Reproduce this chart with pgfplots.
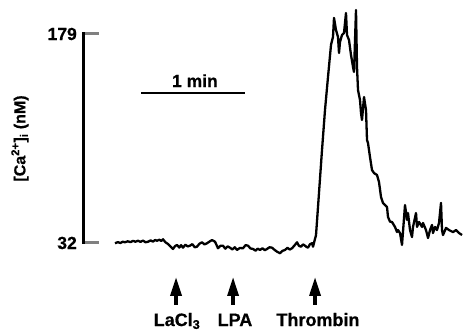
\documentclass[border=0pt]{standalone}
\usepackage{pgfplots}
\pgfplotsset{compat=1.18}
\usepackage{pgfplotstable}
\usepackage{fontspec}
\setmainfont{Liberation Sans}[BoldFeatures={FakeBold=0.6}]
\usetikzlibrary{arrows.meta}
% time (s) vs [Ca2+]i (nM)
\pgfplotstableread{
t v
17.88 31.8
19.5 32.6
21.0 32.0
22.4 32.9
23.65 32.5
25.2 33.2
26.8 32.6
28.3 33.5
29.7 32.9
31.15 33.6
32.6 32.8
34.0 33.7
35.5 32.5
36.92 32.9
38.4 33.8
39.8 33.0
41.0 34.1
42.12 33.6
43.5 34.3
44.6 33.4
45.58 34.6
47.0 32.5
48.46 31.3
49.9 29.5
51.35 27.8
52.5 29.8
53.65 30.6
55.0 28.8
56.0 30.5
57.12 28.7
58.5 30.8
59.8 29.6
61.15 30.1
62.5 31.2
63.9 29.0
65.19 29.4
66.6 31.5
68.08 32.5
69.5 31.0
70.96 31.8
72.4 33.0
73.85 34.1
75.58 32.9
76.5 30.5
77.31 28.3
78.7 30.0
80.19 30.1
81.5 28.0
82.9 29.6
84.23 28.7
85.6 27.5
87.0 29.0
88.27 27.1
89.9 28.5
91.73 28.3
93.2 30.5
94.62 30.1
96.0 28.2
97.50 27.8
99.0 26.6
100.2 28.0
101.54 27.1
103.0 28.3
104.3 26.9
105.58 27.8
107.0 29.0
108.46 28.7
109.9 27.2
111.35 25.9
113.08 24.8
114.5 26.5
115.96 27.1
117.4 28.6
118.7 27.4
120.00 28.3
121.4 30.2
122.88 32.5
124.0 30.0
125.19 29.4
126.4 31.0
127.50 30.1
128.4 29.2
129.23 28.7
130.4 31.2
131.54 31.8
132.12 29.4
133.85 37.6
135.00 57.3
137.31 97.4
139.04 125.6
140.77 148.8
142.50 171.3
143.65 176.9
144.23 190.3
145.38 181.8
146.54 176.9
147.12 165.6
147.69 173.4
148.85 178.3
150.00 179.7
151.15 193.8
151.73 178.3
152.88 174.8
154.04 164.2
155.19 155.8
155.77 152.3
156.92 195.9
157.50 155.8
158.08 139.6
159.23 132.6
159.81 123.4
160.38 118.5
161.54 134.7
162.69 125.5
163.27 104.5
163.85 102.3
165.00 92.5
166.15 83.3
167.31 81.2
169.04 79.8
170.19 74.9
171.35 64.4
172.50 60.1
174.81 57.3
175.38 50.3
176.54 47.0
177.69 46.8
179.42 43.3
180.58 39.7
181.15 41.1
182.31 39.0
183.46 30.6
185.19 58.7
186.35 48.2
186.92 53.1
188.08 41.1
189.23 36.2
189.81 43.3
191.54 53.1
192.12 43.3
193.27 46.8
195.00 43.3
195.58 46.1
197.31 41.1
198.46 35.5
199.62 41.1
200.77 44.7
201.35 39.0
202.50 43.3
203.65 41.1
204.81 46.1
205.96 60.2
206.54 41.1
207.12 37.6
208.85 42.6
210.58 41.1
212.88 39.7
214.62 41.1
216.35 39.0
218.08 37.6
}\trace
\begin{document}
\begin{tikzpicture}[x=1pt,y=1pt]
\useasboundingbox (0,0) rectangle (463,334);
\begin{axis}[
  at={(84pt,91pt)}, anchor=south west,
  scale only axis, width=377.87pt, height=209pt,
  xmin=0, xmax=218, ymin=32, ymax=179,
  clip=false,
  axis x line=none, axis y line=left,
  axis line style={-, line width=3pt, line cap=rect},
  ytick={32,179}, yticklabels={32,179},
  tick align=inside, major tick length=13pt,
  ytick style={line width=3pt, line cap=rect},
  yticklabel style={font=\bfseries\fontsize{17.5}{17.5}\selectfont, anchor=east, inner sep=0pt, xshift=-7pt},
  ylabel={[Ca\textsuperscript{2+}]\textsubscript{i} (nM)},
  ylabel style={font=\bfseries\fontsize{16}{16}\selectfont, at={(axis description cs:-0.1694,0.5)}, anchor=center, rotate=0},
]
\addplot[black, line width=2.3pt, line join=round, mark=none] table {\trace};
\draw[line width=2.8pt] (axis cs:33,137.5) -- (axis cs:93,137.5);
\node[anchor=base, inner sep=0pt, font=\bfseries\fontsize{17.5}{17.5}\selectfont] at (axis cs:64,141.7) {1 min};
\draw[line width=3.4pt, -{Triangle[length=19pt,width=11pt]}] (axis cs:53.1,-11.6) -- (axis cs:53.1,8.1);
\draw[line width=3.4pt, -{Triangle[length=19pt,width=11pt]}] (axis cs:86.0,-11.6) -- (axis cs:86.0,8.1);
\draw[line width=3.4pt, -{Triangle[length=19pt,width=11pt]}] (axis cs:133.3,-11.6) -- (axis cs:133.3,8.1);
\node[anchor=base, inner sep=0pt, font=\bfseries\fontsize{18}{18}\selectfont] at (axis cs:53.65,-26.4) {LaCl\textsubscript{3}};
\node[anchor=base, inner sep=0pt, font=\bfseries\fontsize{18}{18}\selectfont] at (axis cs:87.1,-26.4) {LPA};
\node[anchor=base, inner sep=0pt, font=\bfseries\fontsize{18}{18}\selectfont] at (axis cs:135.0,-26.4) {Thrombin};
\end{axis}
\end{tikzpicture}
\end{document}
